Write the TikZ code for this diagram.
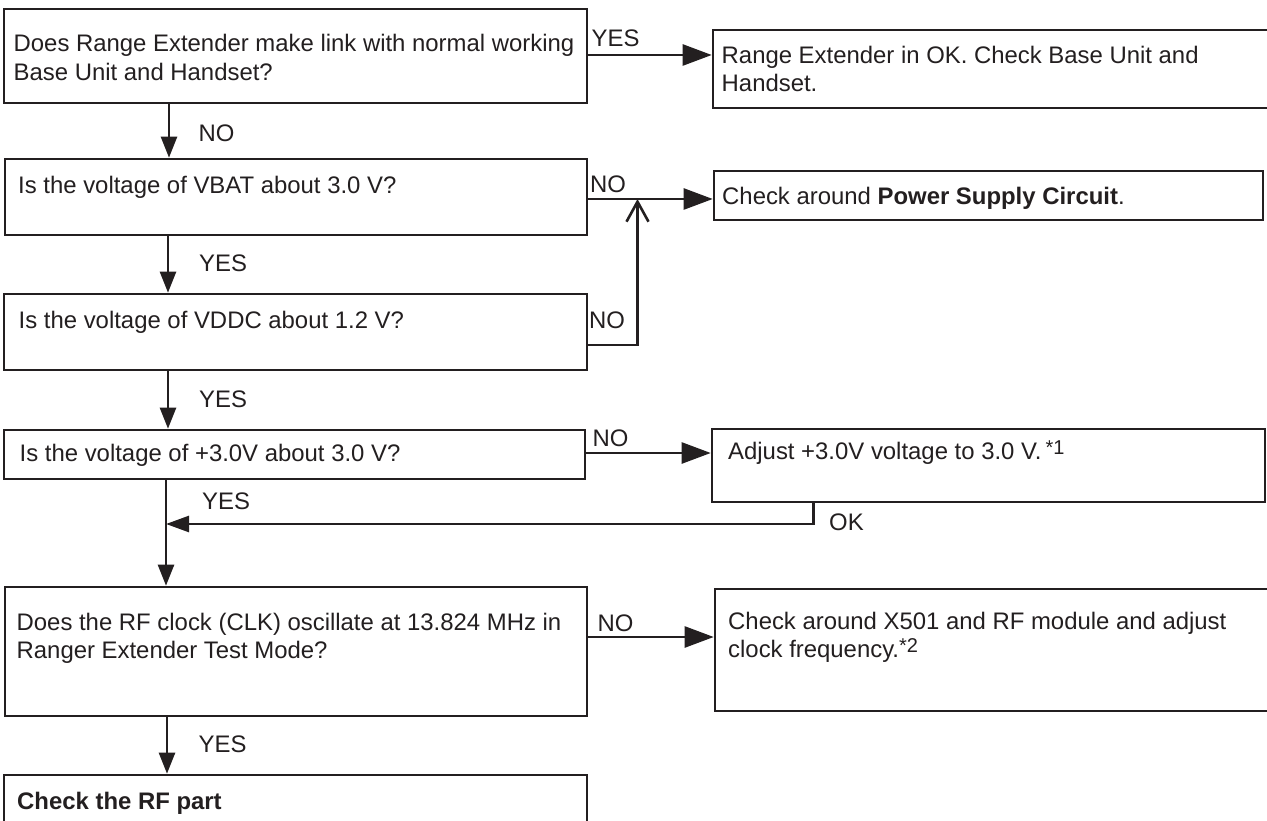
\documentclass[tikz,border=0pt]{standalone}
\usepackage{fontspec}
\setmainfont{Liberation Sans}
\usetikzlibrary{arrows.meta}
\definecolor{ink}{HTML}{231F20}
\newcommand\supnote[2][0pt]{\kern#1\raisebox{5pt}{\fontsize{20}{20}\selectfont #2}}
\newcommand\twolines[2]{\begin{tabular}[t]{@{}l@{}}#1\\#2\end{tabular}}
\begin{document}
\begin{tikzpicture}[x=1pt,y=-1pt,
  box/.style={draw=ink, line width=2.6pt, rectangle, inner sep=0pt},
  txt/.style={anchor=base west, inner sep=0pt, text=ink, font=\fontsize{23.9}{28.5}\selectfont},
  conn/.style={draw=ink, line width=2.6pt},
  rarr/.style={conn, -{Triangle[length=29pt,width=21pt]}},
  darr/.style={conn, -{Triangle[length=21pt,width=16pt]}},
  larr/.style={conn, -{Triangle[length=23pt,width=16pt]}},
  barb/.style={conn, -{Straight Barb[length=20pt,width=22pt]}}]
\useasboundingbox (0,0) rectangle (1267,821);
\clip (0,0) rectangle (1267,821);
\fill[white] (0,0) rectangle (1267,821);

% boxes
\node[box, minimum width=583pt, minimum height=94pt]  (b1) at (295.5,56) {};
\node[box, minimum width=577pt, minimum height=78pt]  (r1) at (1001.5,69) {};
\node[box, minimum width=582pt, minimum height=76pt]  (b2) at (296,197) {};
\node[box, minimum width=549pt, minimum height=49pt]  (r2) at (988.5,195.5) {};
\node[box, minimum width=583pt, minimum height=76pt]  (b3) at (295.5,332) {};
\node[box, minimum width=581pt, minimum height=49pt]  (b4) at (294.5,454.5) {};
\node[box, minimum width=553pt, minimum height=73pt]  (r3) at (988.5,465.5) {};
\node[box, minimum width=582pt, minimum height=129pt] (b5) at (296,651.5) {};
\node[box, minimum width=575pt, minimum height=122pt] (r4) at (1002.5,650) {};
\node[box, minimum width=583pt, minimum height=85pt]  (b6) at (295.5,817.5) {};

% texts
\node[txt] (t1) at (13.5,51.7) {\twolines{Does Range Extender make link with normal working}{Base Unit and Handset?}};
\node[txt] (tr1) at (721.5,63.3) {\twolines{Range Extender in OK. Check Base Unit and}{Handset.}};
\node[txt] (t2) at (18,193.3) {Is the voltage of VBAT about 3.0 V?};
\node[txt] (tr2) at (722,205) {Check around \textbf{Power Supply Circuit}.};
\node[txt] (t3) at (18.5,328.3) {Is the voltage of VDDC about 1.2 V?};
\node[txt] (t4) at (19.5,461.7) {Is the voltage of +3.0V about 3.0 V?};
\node[txt] (tr3) at (728,459.3) {Adjust +3.0V voltage to 3.0 V.\supnote[4pt]{*1}};
\node[txt] (t5) at (16.5,630) {\twolines{Does the RF clock (CLK) oscillate at 13.824 MHz in}{Ranger Extender Test Mode?}};
\node[txt] (tr4) at (728,629) {\twolines{Check around X501 and RF module and adjust}{clock frequency.\supnote{*2}}};
\node[txt] (t6) at (17,809.3) {\textbf{Check the RF part}};

% connectors
\draw[darr] (b1.south -| 169,0) -- (b2.north -| 169,0);
\draw[rarr] (b1.east |- 0,55) -- (r1.west |- 0,55);
\draw[rarr] (b2.east |- 0,199) -- (r2.west |- 0,199);
\draw[darr] (b2.south -| 168,0) -- (b3.north -| 168,0);
\coordinate (m) at (637.5,199);
\draw[barb] (b3.east |- 0,345) -| (m);
\draw[darr] (b3.south -| 168,0) -- (b4.north -| 168,0);
\draw[rarr] (b4.east |- 0,453) -- (r3.west |- 0,453);
\draw[darr] (b4.south -| 166,0) -- (b5.north -| 166,0);
\coordinate (j) at (166,524);
\draw[larr] (r3.south -| 813.5,0) |- (j);
\draw[rarr] (b5.east |- 0,637) -- (r4.west |- 0,637);
\draw[darr] (b5.south -| 167,0) -- (b6.north -| 167,0);

% labels
\node[txt] (lyes1) at (591.5,46.7) {YES};
\node[txt] (lno1) at (198.5,141.7) {NO};
\node[txt] (lno2) at (590,192.3) {NO};
\node[txt] (lyes2) at (199,271.7) {YES};
\node[txt] (lno3) at (589,328.3) {NO};
\node[txt] (lyes3) at (199,407.3) {YES};
\node[txt] (lno4) at (592.5,446.7) {NO};
\node[txt] (lyes4) at (202,509.3) {YES};
\node[txt] (lok) at (829,530.7) {OK};
\node[txt] (lno5) at (597.5,631) {NO};
\node[txt] (lyes5) at (198.5,752) {YES};
\end{tikzpicture}
\end{document}
